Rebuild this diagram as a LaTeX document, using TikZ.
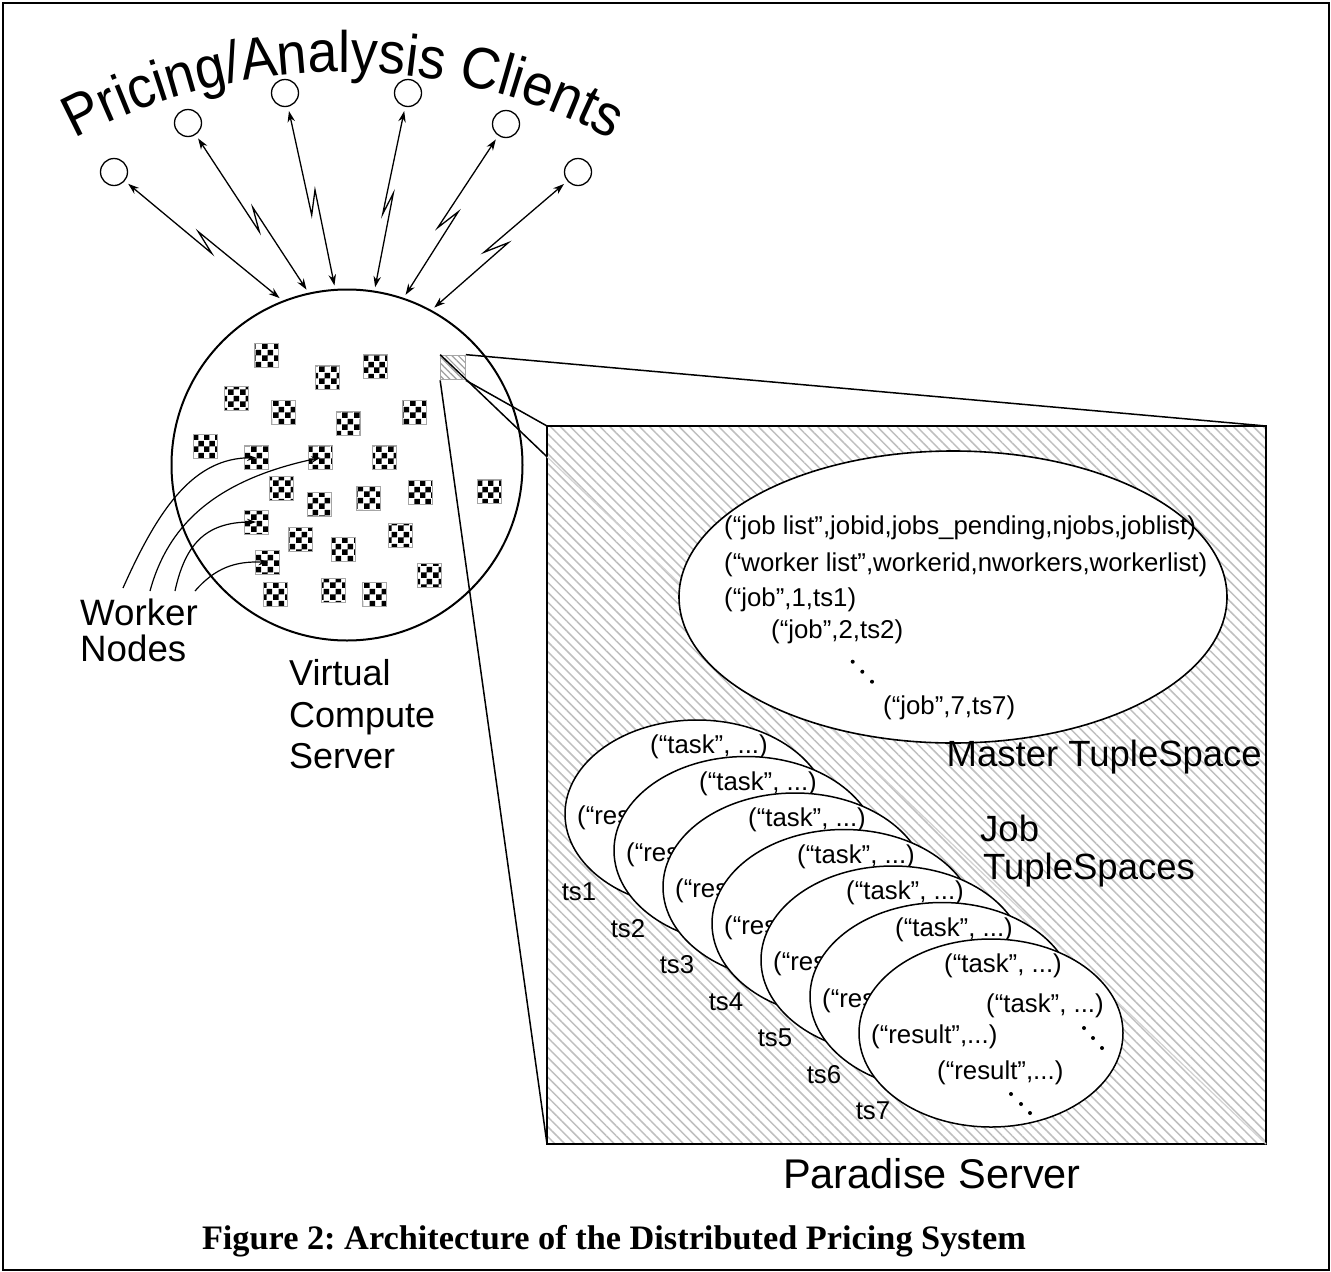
\documentclass[tikz,border=0pt]{standalone}
\usepackage{fontspec}
\setmainfont{Liberation Sans}
\newfontfamily\capserif{Liberation Serif}
\newfontfamily\ttlfam[FakeStretch=0.92]{Liberation Sans}
\usetikzlibrary{arrows.meta,patterns,patterns.meta,decorations.text,shapes.geometric,calc}
\newcommand\ttlfont{\ttlfam\fontsize{58.5}{59}\selectfont}
\frenchspacing
\begin{document}
\begin{tikzpicture}[x=1pt,y=-1pt,
  client/.style={circle,draw,line width=1.3pt,minimum size=27pt,inner sep=0pt,outer sep=5pt},
  link/.style={line width=1.3pt,{Stealth[length=11pt,width=7.5pt]}-{Stealth[length=11pt,width=7.5pt]}},
  worker/.style={draw=gray!70,line width=0.8pt,minimum size=24pt,inner sep=0pt,pattern=checkerboard,pattern color=black},
  wlink/.style={line width=1.2pt,-{Stealth[length=9pt,width=6.5pt]}},
  zline/.style={line width=1.5pt},
  tup/.style={font=\fontsize{25.8}{26}\selectfont,inner sep=0pt,anchor=west},
  tupc/.style={font=\fontsize{25.8}{26}\selectfont,inner sep=0pt},
  big/.style={font=\fontsize{36.5}{37}\selectfont,inner sep=0pt},
  jobell/.style={ellipse,draw,fill=white,line width=1.5pt,minimum width=264pt,minimum height=188pt,inner sep=0pt}
]
\fill[white] (0,0) rectangle (1331,1272);
\useasboundingbox (0,0) rectangle (1331,1272);
\draw[line width=2pt] (2.5,3) rectangle (1328.5,1269.5);

% title along an arc
\path[decorate,decoration={text along path,text align=center,
  text={|\ttlfont|Pricing/Analysis Clients}}]
  ($(343,642)+(230:570)$) arc[start angle=230,end angle=310,radius=570];

% Paradise server (zoomed view)
\node[draw,line width=2pt,minimum width=719pt,minimum height=718pt,anchor=north west,
  inner sep=0pt,outer sep=0pt,
  pattern={Lines[angle=-45,distance=7pt,line width=1.5pt]},pattern color=gray!50]
  (para) at (547,426) {};

% virtual compute server
\node[circle,draw,line width=2pt,minimum size=351pt,inner sep=0pt,outer sep=4.5pt] (vcs) at (347,465) {};
\node[draw=gray!70,line width=0.8pt,minimum size=24.5pt,inner sep=0pt,
  pattern={Lines[angle=-45,distance=4.5pt,line width=1.2pt]},pattern color=gray!75] (zsq) at (453,367.5) {};

\coordinate (lx) at (intersection of zsq.north west--para.south east and para.north west--para.south west);
\draw[gray!35,line width=1.2pt] (lx) -- (para.south east);

% master tuplespace
\node[ellipse,draw,fill=white,line width=1.6pt,minimum width=548pt,minimum height=292pt,inner sep=0pt] (mts) at (953,597) {};
\node[tup] (m1) at (724,528) {(“job list”,jobid,jobs\_pending,njobs,joblist)};
\node[tup] (m2) at (724,565) {(“worker list”,workerid,nworkers,workerlist)};
\node[tup] (m3) at (724,600) {(“job”,1,ts1)};
\node[tup] (m4) at (771,632) {(“job”,2,ts2)};
\fill (852.7,661.7) circle[radius=2] (862.3,671.7) circle[radius=2] (872,681.7) circle[radius=2];
\node[tup] (m5) at (883,708) {(“job”,7,ts7)};

% job tuplespaces
\foreach \i in {1,...,7}{
  \pgfmathsetmacro\cx{697+49*(\i-1)}
  \pgfmathsetmacro\cy{814+36.5*(\i-1)}
  \node[jobell] (ts\i) at (\cx,\cy) {};
  \node[tupc] (ts\i task) at ($(ts\i.center)+(12,-67)$) {(“task”, ...)};
  \node[tup] (ts\i res) at ($(ts\i.center)+(-120,4)$) {(“result”,...)};
}
\node[tup] (ts7task2) at ($(ts7.center)+(-5,-27)$) {(“task”, ...)};
\node[tup] (ts7res2) at ($(ts7.center)+(-54,40)$) {(“result”,...)};
\fill ($(ts7.center)+(93,-5)$) circle[radius=2] ($(ts7.center)+(102,5)$) circle[radius=2] ($(ts7.center)+(111,15)$) circle[radius=2];
\fill ($(ts7.center)+(20,61)$) circle[radius=2] ($(ts7.center)+(30,71)$) circle[radius=2] ($(ts7.center)+(39,80)$) circle[radius=2];
\foreach \i in {1,...,7}{
  \node[tupc] (lbl\i) at ($(ts\i.center)+(-118,78)$) {ts\i};
}

\node[big,anchor=base east] (mlabel) at (1262,766) {Master TupleSpace};
\node[big,anchor=base west] (jlabel1) at (980,841) {Job};
\node[big,anchor=base west] (jlabel2) at (983,879) {TupleSpaces};
\node[font=\fontsize{41.5}{42}\selectfont,inner sep=0pt,anchor=base west] (plabel) at (783,1188) {Paradise Server};

% worker nodes
\foreach \n/\x/\y in {1/266.7/355.7,2/327.3/377.7,3/375.3/366.7,4/236.7/398.3,5/283.7/412.7,
  6/348.7/423.3,7/414/412.7,8/205/446,9/256/457.7,10/320.3/457.7,11/384.7/457.7,
  12/281.3/488.3,13/319.3/504.3,14/368.7/498.7,15/420.7/492,16/489.3/491.7,
  17/256/522,18/300/539,19/343.7/549.3,20/400.7/535.3,21/267.7/562.3,
  22/429/575.7,23/275/594.3,24/333.3/590.7,25/374/594.3}{
  \node[worker] (w\n) at (\x,\y) {};
}

% zoom lines
\draw[zline] (zsq.north east) -- (para.north east);
\draw[zline] (zsq.south west) -- (para.south west);
\draw[zline] (zsq.south east) -- (para.north west);
\draw[zline] (zsq.north west) -- (lx);

% clients
\node[client] (c1) at (114,172) {};
\node[client] (c2) at (188,123) {};
\node[client] (c3) at (285,93) {};
\node[client] (c4) at (408,93) {};
\node[client] (c5) at (506,124) {};
\node[client] (c6) at (578,172) {};
\draw[link] (c1) -- (211.7,253.3) -- (198.3,231.7) -- (vcs.112);
\draw[link] (c2) -- (259.3,231.7) -- (252.7,207.3) -- (vcs.103);
\draw[link] (c3) -- (311.7,215) -- (315,190) -- (vcs.94);
\draw[link] (c4) -- (382.7,214) -- (393.3,193.3) -- (vcs.81);
\draw[link] (c5) -- (437.7,227.7) -- (458.3,211.7) -- (vcs.71);
\draw[link] (c6) -- (484,252.3) -- (508.3,242.7) -- (vcs.61);

% worker labels and arrows
\node[font=\fontsize{36.7}{37}\selectfont,inner sep=0pt,anchor=base west] (wl1) at (80,625) {Worker};
\node[font=\fontsize{36.7}{37}\selectfont,inner sep=0pt,anchor=base west] (wl2) at (80,661) {Nodes};
\coordinate (ws1) at (123,588);
\coordinate (ws2) at (150,591);
\coordinate (ws3) at (175,591);
\coordinate (ws4) at (195,591);
\draw[wlink] (ws1) .. controls (160,505) and (195,458) .. (w9.center);
\draw[wlink] (ws2) .. controls (168,525) and (215,480) .. (w10.center);
\draw[wlink] (ws3) .. controls (185,545) and (205,522) .. (w17.center);
\draw[wlink] (ws4) .. controls (215,568) and (235,561) .. (w21.center);

\node[font=\fontsize{36}{36}\selectfont,inner sep=0pt,anchor=base west] (vl1) at (289,685) {Virtual};
\node[font=\fontsize{36}{36}\selectfont,inner sep=0pt,anchor=base west] (vl2) at (289,727) {Compute};
\node[font=\fontsize{36}{36}\selectfont,inner sep=0pt,anchor=base west] (vl3) at (289,768) {Server};

\node[font=\capserif\bfseries\fontsize{34.3}{35}\selectfont,inner sep=0pt,anchor=base] (cap) at (614,1249)
  {Figure 2: Architecture of the Distributed Pricing System};
\end{tikzpicture}
\end{document}
